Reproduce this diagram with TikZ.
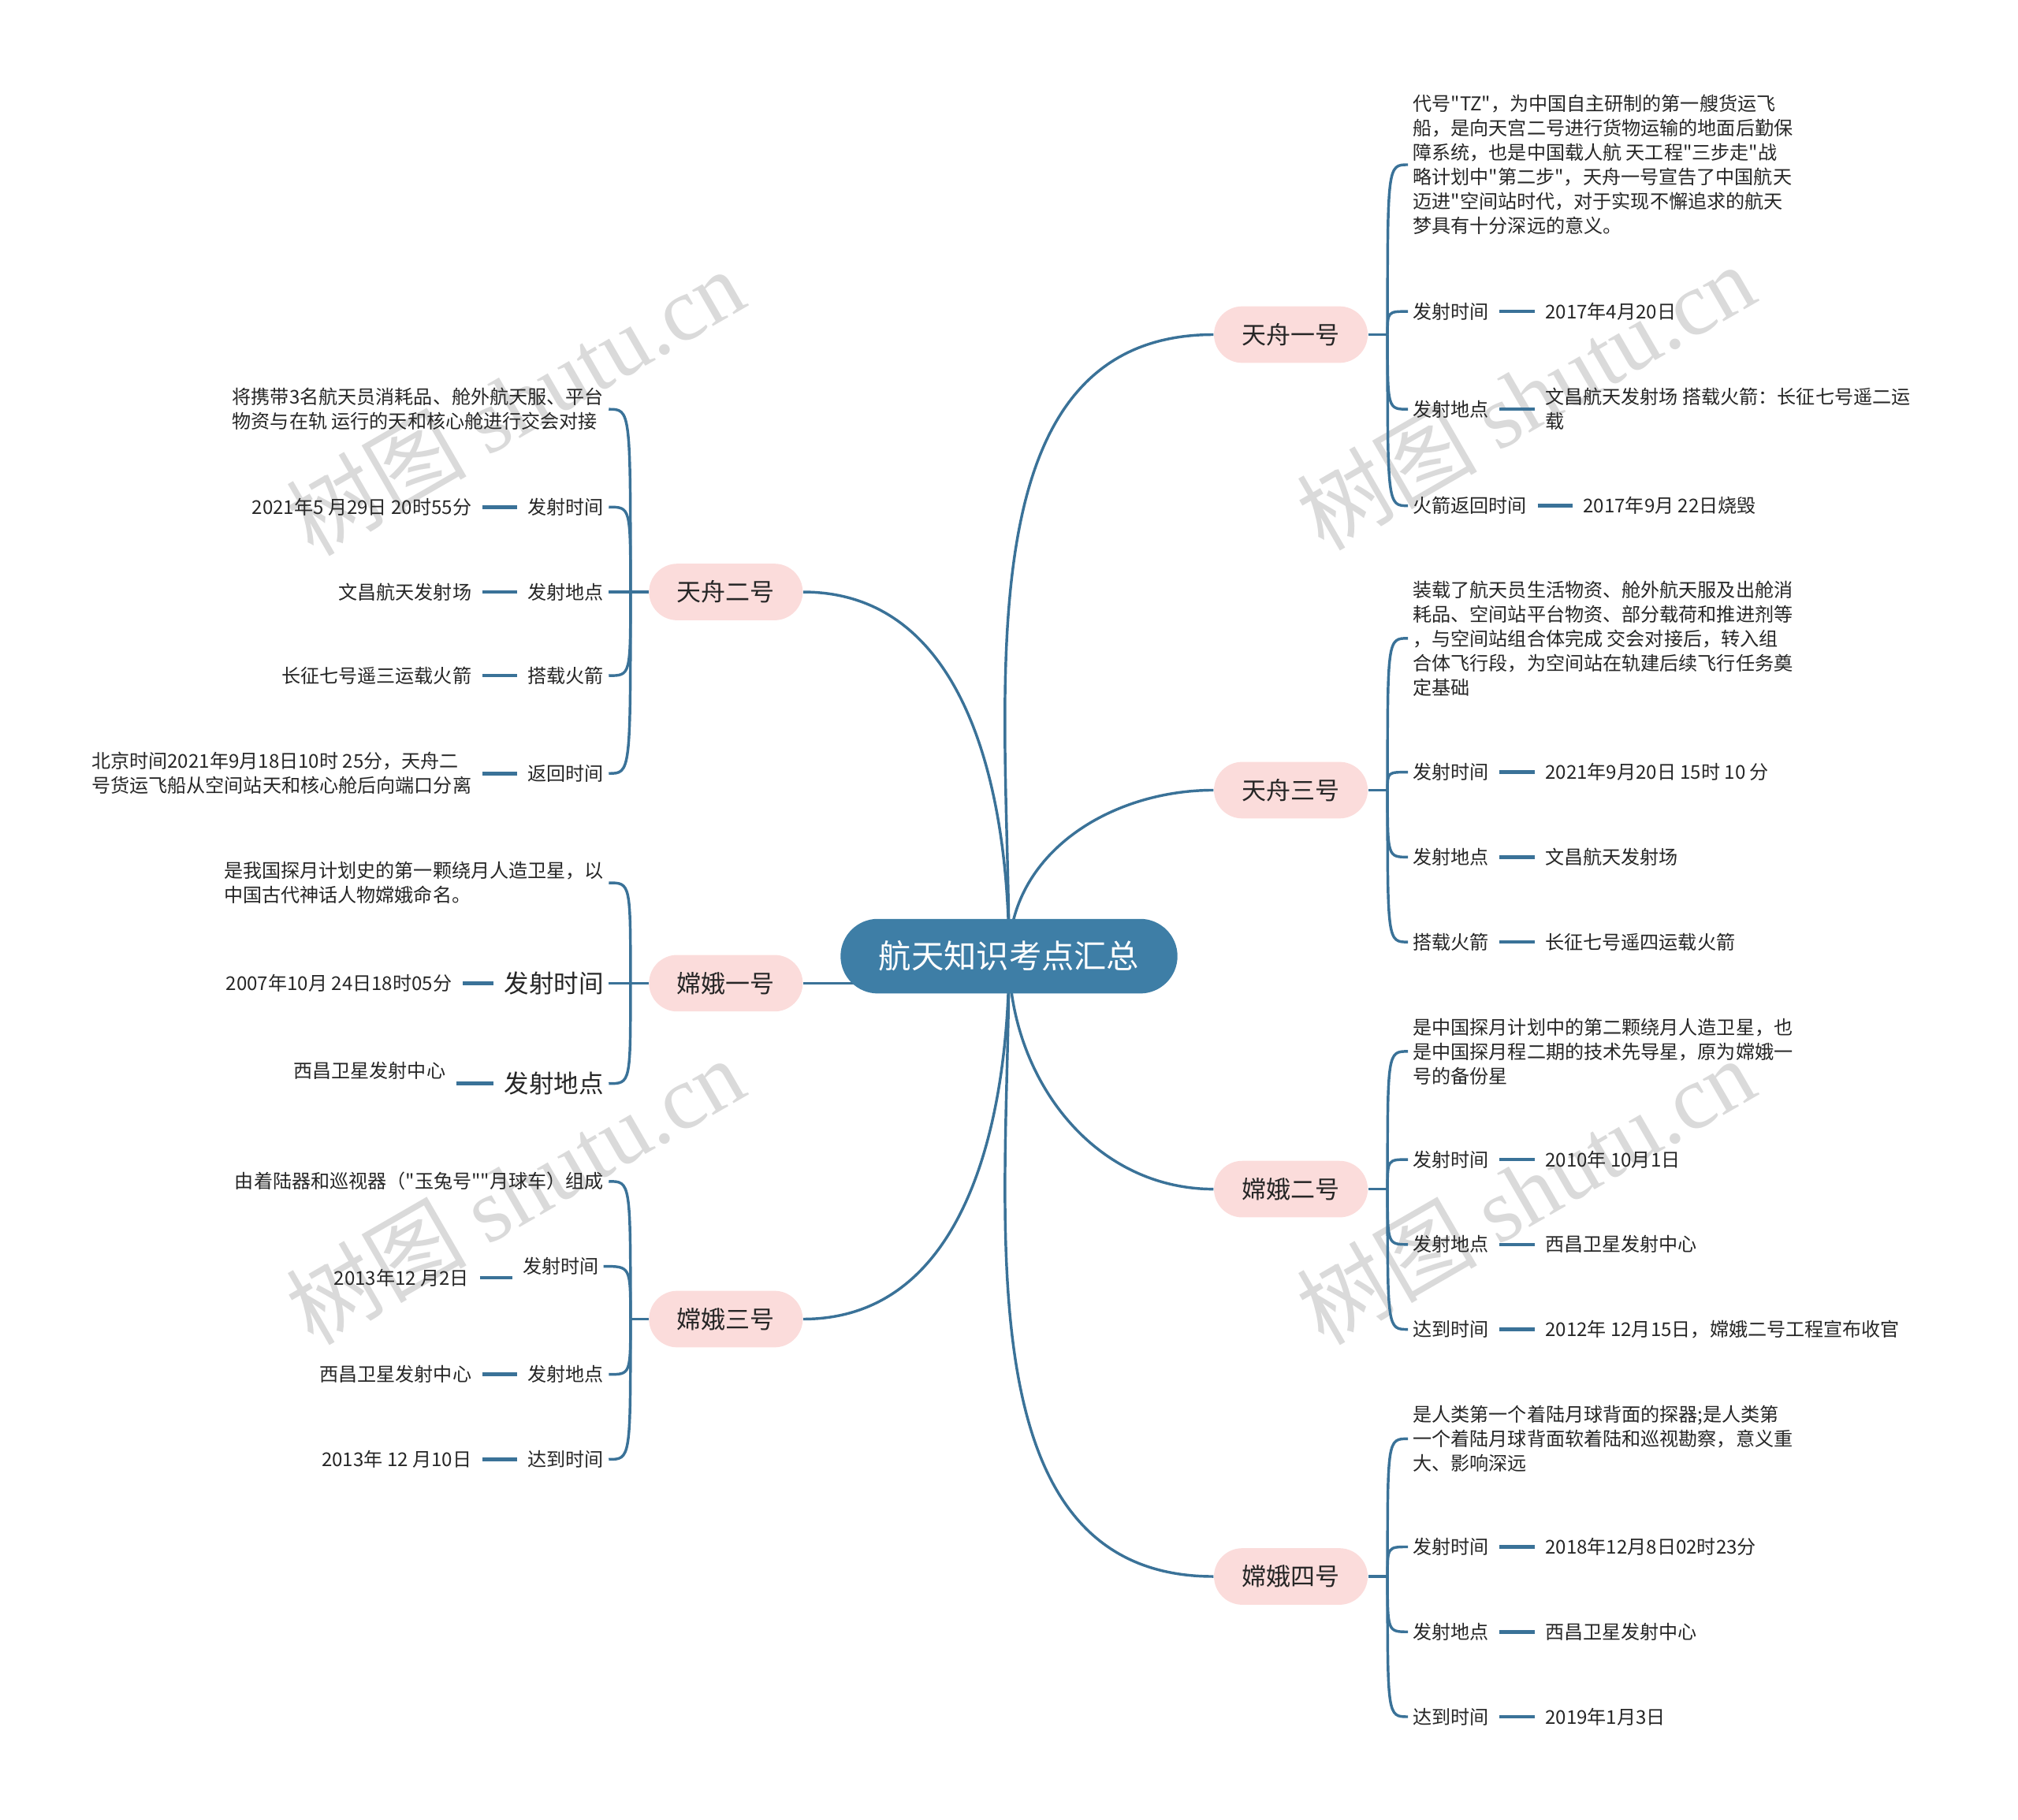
\documentclass[tikz,border=0pt]{standalone}
\usepackage{fontspec}
\setmainfont[Ligatures=TeXOff]{Noto Sans CJK SC}
\newfontfamily\wmserif{Liberation Serif}
\usepackage{tikz}
\usetikzlibrary{positioning, backgrounds}
\definecolor{rootblue}{RGB}{62,126,166}
\definecolor{linkblue}{RGB}{58,114,152}
\definecolor{petal}{RGB}{251,220,219}
\definecolor{ink}{RGB}{38,38,38}
\definecolor{wmgray}{RGB}{218,218,218}
\newcommand\leaffont{\fontsize{8.4pt}{10.8pt}\selectfont}
\newcommand\bigleaffont{\fontsize{11pt}{13pt}\selectfont}
\newcommand\branchfont{\fontsize{10.8pt}{13pt}\selectfont}
\newcommand\rootfont{\fontsize{14.4pt}{17pt}\selectfont}
\newcommand\wmfont{\fontsize{40pt}{44pt}\selectfont}

\begin{document}
\begin{tikzpicture}[
    x=0.02cm, y=-0.02cm,
    link/.style={draw=linkblue, line width=1.2pt},
    stub/.style={draw=linkblue, line width=1.6pt, shorten <=2.5pt, shorten >=2.5pt},
    root/.style={fill=rootblue, text=white, font=\rootfont, rounded corners=16.5pt,
                 minimum width=149pt, minimum height=33pt},
    branch/.style={fill=petal, text=ink, font=\branchfont, rounded corners=12.5pt,
                   minimum width=68pt, minimum height=25pt},
    leaf/.style={text=ink, font=\leaffont, inner sep=2pt, align=left},
    bigleaf/.style={leaf, font=\bigleaffont},
    wmark/.style={text=wmgray, rotate=30, font=\wmfont}
]
\useasboundingbox (0,0) rectangle (1568,1414);
\node[root] (root) at (784,743) {航天知识考点汇总};
\node[branch] (tz1) at (1003,260)  {天舟一号};
\node[branch] (tz3) at (1003,614)  {天舟三号};
\node[branch] (ce2) at (1003,924)  {嫦娥二号};
\node[branch] (ce4) at (1003,1225) {嫦娥四号};
\node[branch] (tz2) at (564,460)   {天舟二号};
\node[branch] (ce1) at (564,764)   {嫦娥一号};
\node[branch] (ce3) at (564,1025)  {嫦娥三号};

% right side
\node[leaf, anchor=west] (tz1d) at (1094,128) {代号"TZ"，为中国自主研制的第一艘货运飞\\船，是向天宫二号进行货物运输的地面后勤保\\障系统，也是中国载人航 天工程"三步走"战\\略计划中"第二步"，天舟一号宣告了中国航天\\迈进"空间站时代，对于实现不懈追求的航天\\梦具有十分深远的意义。};
\node[leaf, anchor=west] (tz1a) at (1094,242) {发射时间};
\node[leaf, right=20.5pt of tz1a] (tz1av) {2017年4月20日};
\node[leaf, anchor=west] (tz1b) at (1094,318) {发射地点};
\node[leaf, right=20.5pt of tz1b] (tz1bv) {文昌航天发射场 搭载火箭：长征七号遥二运\\载};
\node[leaf, anchor=west] (tz1c) at (1094,393) {火箭返回时间};
\node[leaf, right=20.5pt of tz1c] (tz1cv) {2017年9月 22日烧毁};

\node[leaf, anchor=west] (tz3d) at (1094,496) {装载了航天员生活物资、舱外航天服及出舱消\\耗品、空间站平台物资、部分载荷和推进剂等\\，与空间站组合体完成 交会对接后，转入组\\合体飞行段，为空间站在轨建后续飞行任务奠\\定基础};
\node[leaf, anchor=west] (tz3a) at (1094,600) {发射时间};
\node[leaf, right=20.5pt of tz3a] (tz3av) {2021年9月20日 15时 10 分};
\node[leaf, anchor=west] (tz3b) at (1094,666) {发射地点};
\node[leaf, right=20.5pt of tz3b] (tz3bv) {文昌航天发射场};
\node[leaf, anchor=west] (tz3c) at (1094,732) {搭载火箭};
\node[leaf, right=20.5pt of tz3c] (tz3cv) {长征七号遥四运载火箭};

\node[leaf, anchor=west] (ce2d) at (1094,817) {是中国探月计划中的第二颗绕月人造卫星，也\\是中国探月程二期的技术先导星，原为嫦娥一\\号的备份星};
\node[leaf, anchor=west] (ce2a) at (1094,901) {发射时间};
\node[leaf, right=20.5pt of ce2a] (ce2av) {2010年 10月1日};
\node[leaf, anchor=west] (ce2b) at (1094,967) {发射地点};
\node[leaf, right=20.5pt of ce2b] (ce2bv) {西昌卫星发射中心};
\node[leaf, anchor=west] (ce2c) at (1094,1033) {达到时间};
\node[leaf, right=20.5pt of ce2c] (ce2cv) {2012年 12月15日，嫦娥二号工程宣布收官};

\node[leaf, anchor=west] (ce4d) at (1094,1118) {是人类第一个着陆月球背面的探器;是人类第\\一个着陆月球背面软着陆和巡视勘察，意义重\\大、影响深远};
\node[leaf, anchor=west] (ce4a) at (1094,1202) {发射时间};
\node[leaf, right=20.5pt of ce4a] (ce4av) {2018年12月8日02时23分};
\node[leaf, anchor=west] (ce4b) at (1094,1268) {发射地点};
\node[leaf, right=20.5pt of ce4b] (ce4bv) {西昌卫星发射中心};
\node[leaf, anchor=west] (ce4c) at (1094,1334) {达到时间};
\node[leaf, right=20.5pt of ce4c] (ce4cv) {2019年1月3日};

% left side
\node[leaf, anchor=east] (tz2d) at (473,318) {将携带3名航天员消耗品、舱外航天服、平台\\物资与在轨 运行的天和核心舱进行交会对接};
\node[leaf, anchor=east] (tz2a) at (473,394) {发射时间};
\node[leaf, left=20.5pt of tz2a] (tz2av) {2021年5 月29日 20时55分};
\node[leaf, anchor=east] (tz2b) at (473,460) {发射地点};
\node[leaf, left=20.5pt of tz2b] (tz2bv) {文昌航天发射场};
\node[leaf, anchor=east] (tz2c) at (473,525) {搭载火箭};
\node[leaf, left=20.5pt of tz2c] (tz2cv) {长征七号遥三运载火箭};
\node[leaf, anchor=east] (tz2e) at (473,601) {返回时间};
\node[leaf, left=20.5pt of tz2e] (tz2ev) {北京时间2021年9月18日10时 25分，天舟二\\号货运飞船从空间站天和核心舱后向端口分离};

\node[leaf, anchor=east] (ce1d) at (473,686) {是我国探月计划史的第一颗绕月人造卫星，以\\中国古代神话人物嫦娥命名。};
\node[bigleaf, anchor=east] (ce1a) at (473,764) {发射时间};
\node[leaf, left=18.8pt of ce1a] (ce1av) {2007年10月 24日18时05分};
\node[bigleaf, anchor=east] (ce1b) at (473,842) {发射地点};
\node[leaf, left=21.6pt of ce1b, yshift=5.7pt] (ce1bv) {西昌卫星发射中心};

\node[leaf, anchor=east] (ce3d) at (473,918) {由着陆器和巡视器（"玉兔号""月球车）组成};
\node[leaf, anchor=east] (ce3a) at (469,984) {发射时间};
\node[leaf, left=19.3pt of ce3a, yshift=-5.1pt] (ce3av) {2013年12 月2日};
\node[leaf, anchor=east] (ce3b) at (473,1068) {发射地点};
\node[leaf, left=20.5pt of ce3b] (ce3bv) {西昌卫星发射中心};
\node[leaf, anchor=east] (ce3c) at (473,1134) {达到时间};
\node[leaf, left=20.5pt of ce3c] (ce3cv) {2013年 12 月10日};

% braces
\draw[link] (tz1.east) -- ++(15,0) coordinate (tz1j);
\draw[link] (tz1j) .. controls (tz1j |- tz1d.west) .. (tz1d.west);
\draw[link] (tz1j) .. controls (tz1j |- tz1a.west) .. (tz1a.west);
\draw[link] (tz1j) .. controls (tz1j |- tz1b.west) .. (tz1b.west);
\draw[link] (tz1j) .. controls (tz1j |- tz1c.west) .. (tz1c.west);
\draw[link] (tz3.east) -- ++(15,0) coordinate (tz3j);
\draw[link] (tz3j) .. controls (tz3j |- tz3d.west) .. (tz3d.west);
\draw[link] (tz3j) .. controls (tz3j |- tz3a.west) .. (tz3a.west);
\draw[link] (tz3j) .. controls (tz3j |- tz3b.west) .. (tz3b.west);
\draw[link] (tz3j) .. controls (tz3j |- tz3c.west) .. (tz3c.west);
\draw[link] (ce2.east) -- ++(15,0) coordinate (ce2j);
\draw[link] (ce2j) .. controls (ce2j |- ce2d.west) .. (ce2d.west);
\draw[link] (ce2j) .. controls (ce2j |- ce2a.west) .. (ce2a.west);
\draw[link] (ce2j) .. controls (ce2j |- ce2b.west) .. (ce2b.west);
\draw[link] (ce2j) .. controls (ce2j |- ce2c.west) .. (ce2c.west);
\draw[link] (ce4.east) -- ++(15,0) coordinate (ce4j);
\draw[link] (ce4j) .. controls (ce4j |- ce4d.west) .. (ce4d.west);
\draw[link] (ce4j) .. controls (ce4j |- ce4a.west) .. (ce4a.west);
\draw[link] (ce4j) .. controls (ce4j |- ce4b.west) .. (ce4b.west);
\draw[link] (ce4j) .. controls (ce4j |- ce4c.west) .. (ce4c.west);
\draw[link] (tz2.west) -- ++(-14,0) coordinate (tz2j);
\draw[link] (tz2j) .. controls (tz2j |- tz2d.east) .. (tz2d.east);
\draw[link] (tz2j) .. controls (tz2j |- tz2a.east) .. (tz2a.east);
\draw[link] (tz2j) .. controls (tz2j |- tz2b.east) .. (tz2b.east);
\draw[link] (tz2j) .. controls (tz2j |- tz2c.east) .. (tz2c.east);
\draw[link] (tz2j) .. controls (tz2j |- tz2e.east) .. (tz2e.east);
\draw[link] (ce1.west) -- ++(-14,0) coordinate (ce1j);
\draw[link] (ce1j) .. controls (ce1j |- ce1d.east) .. (ce1d.east);
\draw[link] (ce1j) .. controls (ce1j |- ce1a.east) .. (ce1a.east);
\draw[link] (ce1j) .. controls (ce1j |- ce1b.east) .. (ce1b.east);
\draw[link] (ce3.west) -- ++(-14,0) coordinate (ce3j);
\draw[link] (ce3j) .. controls (ce3j |- ce3d.east) .. (ce3d.east);
\draw[link] (ce3j) .. controls (ce3j |- ce3a.east) .. (ce3a.east);
\draw[link] (ce3j) .. controls (ce3j |- ce3b.east) .. (ce3b.east);
\draw[link] (ce3j) .. controls (ce3j |- ce3c.east) .. (ce3c.east);

% stubs
\draw[stub] (tz1a) -- (tz1av); \draw[stub] (tz1b) -- (tz1bv); \draw[stub] (tz1c) -- (tz1cv);
\draw[stub] (tz3a) -- (tz3av); \draw[stub] (tz3b) -- (tz3bv); \draw[stub] (tz3c) -- (tz3cv);
\draw[stub] (ce2a) -- (ce2av); \draw[stub] (ce2b) -- (ce2bv); \draw[stub] (ce2c) -- (ce2cv);
\draw[stub] (ce4a) -- (ce4av); \draw[stub] (ce4b) -- (ce4bv); \draw[stub] (ce4c) -- (ce4cv);
\draw[stub] (tz2a) -- (tz2av); \draw[stub] (tz2b) -- (tz2bv); \draw[stub] (tz2c) -- (tz2cv);
\draw[stub] (tz2e) -- (tz2ev);
\draw[stub] (ce1a) -- (ce1av); \draw[stub] (ce1b.west) -- (ce1bv.east |- ce1b.west);
\draw[stub] (ce3av.east) -- (ce3av.east -| ce3a.west);
\draw[stub] (ce3b) -- (ce3bv); \draw[stub] (ce3c) -- (ce3cv);

\begin{scope}[on background layer]
\node[wmark] (wm1) at (400,312)  {树图 {\wmserif shutu.cn}};
\node[wmark] (wm2) at (1185,308) {树图 {\wmserif shutu.cn}};
\node[wmark] (wm3) at (400,925)  {树图 {\wmserif shutu.cn}};
\node[wmark] (wm4) at (1185,925) {树图 {\wmserif shutu.cn}};
\draw[link] (root.center) to[out=90, in=180] (tz1.west);
\draw[link] (root.center) to[out=90, in=180] (tz3.west);
\draw[link] (root.center) to[out=-90, in=180] (ce2.west);
\draw[link] (root.center) to[out=-90, in=180] (ce4.west);
\draw[link] (root.center) to[out=90, in=0] (tz2.east);
\draw[link] (ce1.east) -- (ce1.east -| root.center);
\draw[link] (root.center) to[out=-90, in=0] (ce3.east);
\end{scope}
\end{tikzpicture}
\end{document}
